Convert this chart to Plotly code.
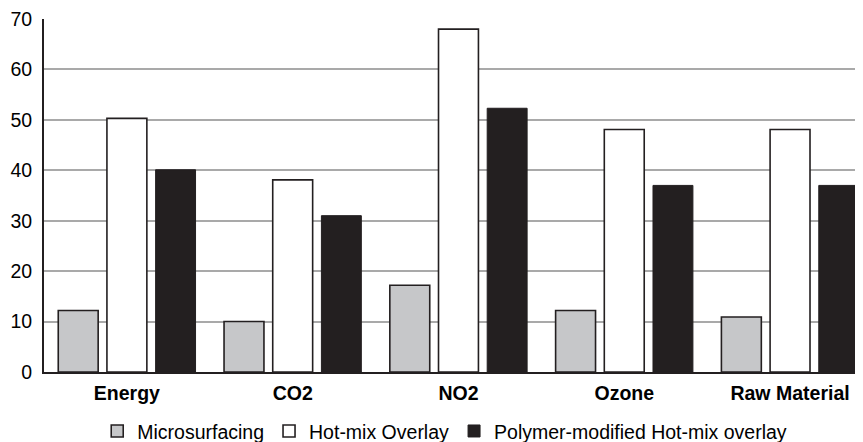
import plotly.graph_objects as go

categories = ["Energy", "CO2", "NO2", "Ozone", "Raw Material"]
microsurfacing = [12.2, 10.0, 17.2, 12.2, 10.9]
hot_mix_overlay = [50.3, 38.1, 68.0, 48.1, 48.1]
polymer_modified = [40.1, 31.0, 52.3, 37.0, 37.0]
y_ticks = [0, 10, 20, 30, 40, 50, 60, 70]

dark = "#231f20"
font_family = "Liberation Sans, Arial, sans-serif"

fig = go.Figure()
fig.add_trace(go.Bar(name="Microsurfacing", x=categories, y=microsurfacing,
                     marker=dict(color="#c6c7c9", line=dict(color=dark, width=1.6))))
fig.add_trace(go.Bar(name="Hot-mix Overlay", x=categories, y=hot_mix_overlay,
                     marker=dict(color="#ffffff", line=dict(color=dark, width=1.6))))
fig.add_trace(go.Bar(name="Polymer-modified Hot-mix overlay", x=categories, y=polymer_modified,
                     marker=dict(color=dark, line=dict(color=dark, width=1))))

# the page body adds an 8px offset, so the figure is 8px smaller than the window
fig.update_layout(
    width=855, height=434,
    margin=dict(l=36, r=0, t=11, b=70, autoexpand=False),
    paper_bgcolor="white", plot_bgcolor="white",
    barmode="group", bargap=0.119, bargroupgap=0.18,
    font=dict(family=font_family, size=19, color="#000000"),
    showlegend=True,
    legend=dict(orientation="h", x=0.065, xanchor="left", y=-0.168, yanchor="middle",
                font=dict(size=19.5), traceorder="normal",
                bgcolor="rgba(0,0,0,0)"),
)
fig.update_xaxes(
    range=[-0.5, 4.44], showline=True, linecolor=dark, linewidth=2, automargin=False,
    showgrid=False, ticks="", ticklabelstandoff=3, ticklabeloverflow="allow",
    tickfont=dict(size=19.5, family="Liberation Sans, Arial", weight="bold"),
)
fig.update_yaxes(
    range=[0, 70], tickvals=y_ticks, showline=True, linecolor=dark, linewidth=2, automargin=False,
    showgrid=True, gridcolor="#a9a9a9", gridwidth=1.5, zeroline=False,
    ticks="", tickfont=dict(size=19.5), ticklabelstandoff=6, ticklabeloverflow="allow",
)

fig.write_html("out.html")
